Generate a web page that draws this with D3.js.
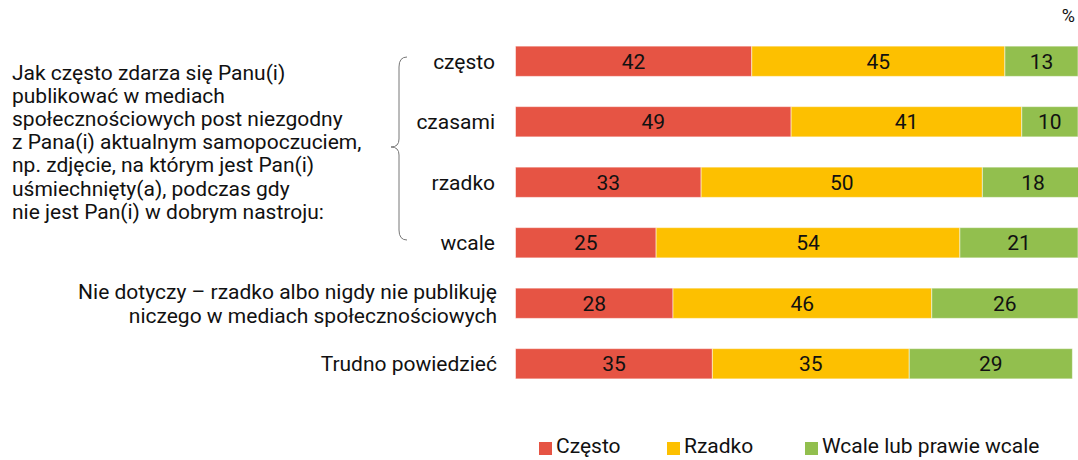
<!DOCTYPE html>
<html><head><meta charset="utf-8">
<script src="https://cdn.jsdelivr.net/npm/d3@7"></script>
<style>body{margin:0;background:#fff}svg{display:block;font-family:Roboto,"Noto Sans",sans-serif}</style>
</head><body><svg id="c" width="1078" height="460"></svg>
<script>
const categories = ["często","czasami","rzadko","wcale","Nie dotyczy – rzadko albo nigdy nie publikuję|niczego w mediach społecznościowych","Trudno powiedzieć"];
const often = [42,49,33,25,28,35];
const rarely = [45,41,50,54,46,35];
const never = [13,10,18,21,26,29];
const seriesNames = ["Często","Rzadko","Wcale lub prawie wcale"];
const colors = ["#e65444","#fdc000","#92bf4e"];
const questionLines = ["Jak często zdarza się Panu(i)","publikować w mediach","społecznościowych post niezgodny","z Pana(i) aktualnym samopoczuciem,","np. zdjęcie, na którym jest Pan(i)","uśmiechnięty(a), podczas gdy","nie jest Pan(i) w dobrym nastroju:"];

const FS = 21;
const svg = d3.select("#c");
const x = d3.scaleLinear().domain([0,100]).range([515.5,1078]);
const y = d3.scaleBand().domain(d3.range(categories.length)).range([31,394]).paddingInner(0.5).paddingOuter(0.25);

const data = categories.map((c,i)=>({c, v:[often[i],rarely[i],never[i]]}));
const rows = svg.selectAll("g.row").data(data).join("g").attr("class","row");
rows.each(function(d,i){
  let acc=0;
  const g=d3.select(this);
  d.v.forEach((v,k)=>{
    g.append("rect").attr("x",x(acc)).attr("y",y(i)).attr("width",x(acc+v)-x(acc)).attr("height",y.bandwidth())
      .attr("fill",colors[k]).attr("stroke","#fff").attr("stroke-opacity",0.5).attr("stroke-width",1);
    g.append("text").attr("x",(x(acc)+x(acc+v))/2).attr("y",y(i)+y.bandwidth()/2).attr("dy","0.36em")
      .attr("text-anchor","middle").attr("font-size",FS).attr("fill","#111").text(v);
    acc+=v;
  });
  const lines=d.c.split("|");
  const cy=y(i)+y.bandwidth()/2;
  lines.forEach((l,j)=>{
    g.append("text").attr("x",i<4?495:497).attr("y",cy+(j-(lines.length-1)/2)*24).attr("dy","0.36em")
      .attr("text-anchor","end").attr("font-size",FS).attr("fill","#111").text(l);
  });
});

// question text
svg.append("g").selectAll("text").data(questionLines).join("text")
  .attr("x",12).attr("y",(d,i)=>72+i*23.2).attr("dy","0.36em").attr("font-size",FS).attr("fill","#111").text(d=>d);

// brace
const bTop=57, bBot=240, bMid=(y(1)+y.bandwidth()/2+y(2)+y.bandwidth()/2)/2-5, bx=407, dx=8;
svg.append("path").attr("fill","none").attr("stroke","#777").attr("stroke-width",1)
  .attr("d",`M${bx},${bTop} Q${bx-dx},${bTop} ${bx-dx},${bTop+10} L${bx-dx},${bMid-8} Q${bx-dx},${bMid} ${bx-2*dx},${bMid} Q${bx-dx},${bMid} ${bx-dx},${bMid+8} L${bx-dx},${bBot-10} Q${bx-dx},${bBot} ${bx},${bBot}`);

// percent
svg.append("text").attr("x",1075).attr("y",22).attr("text-anchor","end").attr("font-size",18).attr("fill","#111").text("%");

// legend
const legX=[539,667,805];
const lg=svg.append("g").selectAll("g").data(seriesNames).join("g");
lg.append("rect").attr("x",(d,i)=>legX[i]).attr("y",442).attr("width",13).attr("height",13).attr("fill",(d,i)=>colors[i]);
lg.append("text").attr("x",(d,i)=>legX[i]+17).attr("y",453).attr("font-size",FS).attr("fill","#111").text(d=>d);
</script></body></html>
